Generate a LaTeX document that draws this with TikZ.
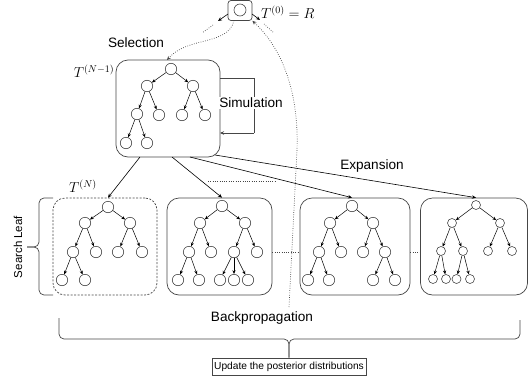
\documentclass[tikz,border=0pt]{standalone}
\usepackage{fontspec}
\setmainfont{Liberation Sans}
\usetikzlibrary{arrows.meta}
\definecolor{dk}{RGB}{70,70,70}
\begin{document}
\begin{tikzpicture}[x=1pt,y=-1pt,
  tn/.style={circle,draw=dk,line width=0.6pt,minimum size=11.4pt,inner sep=0pt},
  sn/.style={tn,minimum size=9pt},
  te/.style={line width=0.5pt,-{Stealth[length=3.8pt,width=3.2pt]}},
  arr/.style={line width=0.6pt,-{Stealth[length=4pt,width=3.5pt]}},
  bigbox/.style={draw=dk,line width=0.7pt,rounded corners=12pt,inner sep=0pt},
  lbl/.style={font=\fontsize{13.6}{15}\selectfont,inner sep=1pt},
  mth/.style={font=\fontsize{14}{16}\selectfont,inner sep=0pt},
  dots/.style={dk,line width=0.7pt,dash pattern=on 0.7pt off 1.6pt},
  brace/.style={dk,line width=0.7pt,rounded corners=5pt}]
\useasboundingbox (0,0) rectangle (529,383);

% root box
\node[draw=dk,line width=0.7pt,rounded corners=3pt,minimum width=24pt,minimum height=20pt,inner sep=0pt] (R) at (240,10.5) {};
\node[tn,minimum size=12pt] (r0) at (240,10) {};
\node[mth,anchor=west] (tR) at (261,12) {$T^{(0)} = R$};

% big box T^(N-1)
\node[bigbox,minimum width=104pt,minimum height=97pt] (A) at (168,108.5) {};
\node[mth] (tA) at (94,71) {$T^{(N-1)}$};
\node[lbl] (sel) at (136,43) {Selection};

\node[tn] (a0) at (171,69) {};
\node[tn] (a1) at (147,86) {};
\node[tn] (a2) at (193,86) {};
\node[tn] (a3) at (137,114) {};
\node[tn] (a4) at (159,115) {};
\node[tn] (a5) at (182,115) {};
\node[tn] (a6) at (205,115) {};
\node[tn] (a7) at (126,143) {};
\node[tn] (a8) at (147,143) {};
\foreach \p/\c in {a0/a1,a0/a2,a1/a3,a1/a4,a2/a5,a2/a6,a3/a7,a3/a8}
  \draw[te] (\p) -- (\c);

% simulation loop
\coordinate (s1) at (220,78);
\coordinate (s2) at (254,78);
\coordinate (s3) at (254,133);
\coordinate (s4) at (220,133);
\draw[dk,line width=0.7pt] (s1) -- (s2) -- (s3);
\draw[arr,dk] (s3) -- (s4);
\node[lbl,fill=white] (sim) at (251,103) {Simulation};

% root box arrows
\coordinate (rl1) at (228,14);
\coordinate (rl2) at (218,21);
\coordinate (rl3) at (213,25);
\coordinate (rl4) at (202,33);
\draw[arr] (rl1) -- (rl2);
\draw[dots] (rl3) -- (rl4);
\coordinate (rr1) at (252,14);
\coordinate (rr2) at (260,20);
\coordinate (rr3) at (264,24);
\coordinate (rr4) at (274,33);
\draw[arr] (rr1) -- (rr2);
\draw[dots] (rr3) -- (rr4);

% selection dotted arrow
\coordinate (sA) at (234,20.5);
\coordinate (eA) at (167,60);
\draw[dots,-{Stealth[length=4pt,width=3.5pt]}] (sA) .. controls (228,46) and (188,36) .. (eA);

% bottom boxes
\node[bigbox,dashed,dash pattern=on 2pt off 1.5pt,minimum width=104pt,minimum height=97pt] (B1) at (105,246.5) {};
\node[bigbox,minimum width=105pt,minimum height=97pt] (B2) at (219.5,246.5) {};
\node[bigbox,minimum width=110pt,minimum height=97pt] (B3) at (355,246.5) {};
\node[bigbox,minimum width=107pt,minimum height=97pt] (B4) at (474,246.5) {};
\node[mth] (tB) at (83,186) {$T^{(N)}$};

% tree B1
\node[tn] (b0) at (108,207) {};
\node[tn] (b1) at (85,223) {};
\node[tn] (b2) at (130,223) {};
\node[tn] (b3) at (73,252) {};
\node[tn] (b4) at (96,252) {};
\node[tn] (b5) at (118,252) {};
\node[tn] (b6) at (142,252) {};
\node[tn] (b7) at (62,280) {};
\node[tn] (b8) at (85,280) {};
\foreach \p/\c in {b0/b1,b0/b2,b1/b3,b1/b4,b2/b5,b2/b6,b3/b7,b3/b8}
  \draw[te] (\p) -- (\c);

% tree B2
\node[tn] (c0) at (222,206) {};
\node[tn] (c1) at (200,223) {};
\node[tn] (c2) at (245,223) {};
\node[tn] (c3) at (189,252) {};
\node[tn] (c4) at (211,252) {};
\node[tn] (c5) at (234,252) {};
\node[tn] (c6) at (257,252) {};
\node[tn] (c7) at (178,280) {};
\node[tn] (c8) at (199,280) {};
\node[tn] (c9) at (220,280) {};
\node[tn] (c10) at (234,280) {};
\node[tn] (c11) at (248,280) {};
\foreach \p/\c in {c0/c1,c0/c2,c1/c3,c1/c4,c2/c5,c2/c6,c3/c7,c3/c8,c5/c9,c5/c10,c5/c11}
  \draw[te] (\p) -- (\c);

% tree B3
\node[tn] (d0) at (352,206) {};
\node[tn] (d1) at (330,223) {};
\node[tn] (d2) at (373,223) {};
\node[tn] (d3) at (319,252) {};
\node[tn] (d4) at (341,252) {};
\node[tn] (d5) at (363,252) {};
\node[tn] (d6) at (385,252) {};
\node[tn] (d7) at (308,280) {};
\node[tn] (d8) at (329,280) {};
\node[tn] (d9) at (373,280) {};
\node[tn] (d10) at (395,280) {};
\foreach \p/\c in {d0/d1,d0/d2,d1/d3,d1/d4,d2/d5,d2/d6,d3/d7,d3/d8,d6/d9,d6/d10}
  \draw[te] (\p) -- (\c);

% tree B4
\node[sn] (e0) at (476,205) {};
\node[sn] (e1) at (452,223) {};
\node[sn] (e2) at (500,223) {};
\node[sn] (e3) at (441,251) {};
\node[sn] (e4) at (463,251) {};
\node[sn] (e5) at (488,251) {};
\node[sn] (e6) at (512,251) {};
\node[sn] (e7) at (433,279) {};
\node[sn] (e8) at (446,279) {};
\node[sn] (e9) at (456.5,279) {};
\node[sn] (e10) at (470,279) {};
\foreach \p/\c in {e0/e1,e0/e2,e1/e3,e1/e4,e2/e5,e2/e6,e3/e7,e3/e8,e4/e9,e4/e10}
  \draw[te] (\p) -- (\c);

% expansion arrows
\coordinate (x1) at (140,157);
\coordinate (x2) at (172,157);
\coordinate (x3) at (190,157);
\coordinate (x4) at (215,155);
\draw[arr] (x1) -- (b0 |- B1.north);
\draw[arr] (x2) -- (c0 |- B2.north);
\draw[arr] (x3) -- (d0 |- B3.north);
\draw[arr] (x4) -- (e0 |- B4.north);
\coordinate (h1) at (208,181);
\coordinate (h2) at (275,181);
\draw[dots] (h1) -- (h2);
\node[lbl] (exp) at (372,166) {Expansion};

% dotted between boxes
\draw[dots] (B2.east |- c6) -- (B3.west |- c6);
\draw[dots] (B3.east |- c6) -- (B4.west |- c6);

% backprop dotted curve
\coordinate (bp1) at (289,307);
\coordinate (bp2) at (297,150);
\draw[dots,-{Stealth[length=4pt,width=3.5pt]}] (bp1) -- (bp2) .. controls (299,92) and (282,48) .. (R.south east);

% search leaf brace
\coordinate (sl1) at (53,198);
\coordinate (sl2) at (53,295);
\coordinate (slm) at (27,247);
\draw[brace] (sl1) -- (39,198) -- (39,247) -- (slm);
\draw[brace] (sl2) -- (39,295) -- (39,247) -- (slm);
\node[font=\fontsize{11.5}{13}\selectfont,rotate=90] (sl) at (18,247) {Search Leaf};

% backpropagation brace
\node[lbl] (bp) at (262,318) {Backpropagation};
\node[draw=dk,line width=0.6pt,minimum width=154pt,minimum height=17pt,inner sep=0pt,font=\fontsize{10.2}{12}\selectfont] (U) at (289,366.5) {Update the posterior distributions};
\coordinate (bl) at (59,318);
\coordinate (br) at (520,320);
\draw[brace] (bl) -- (59,339) -- (289,339) -- (U.north);
\draw[brace] (br) -- (520,339) -- (289,339) -- (U.north);
\end{tikzpicture}
\end{document}
